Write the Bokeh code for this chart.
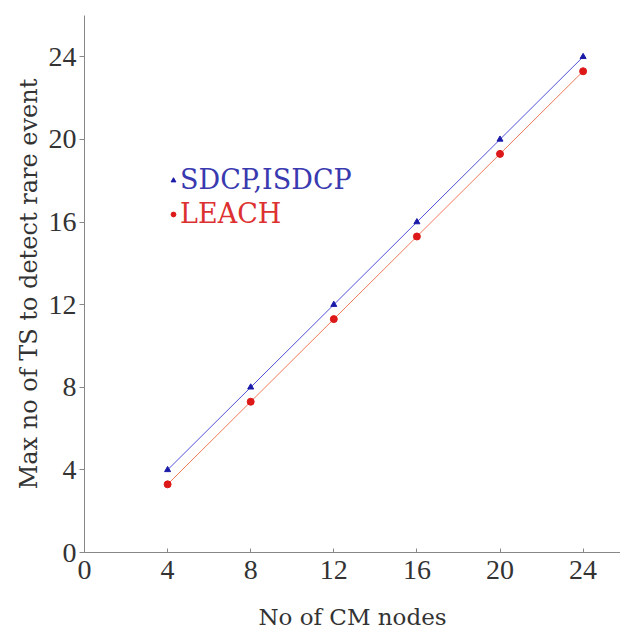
from bokeh.plotting import figure
from bokeh.models import Range1d, Legend, LegendItem, FixedTicker
from bokeh.embed import file_html
from bokeh.resources import INLINE

cm_nodes = [4, 8, 12, 16, 20, 24]
sdcp_isdcp = [4, 8, 12, 16, 20, 24]
leach = [3.3, 7.3, 11.3, 15.3, 19.3, 23.3]
ticks = [0, 4, 8, 12, 16, 20, 24]

FONT = "DejaVu Serif"
NUMFONT = "Liberation Serif"

p = figure(width=620, height=632, output_backend="svg", toolbar_location=None,
           x_range=Range1d(0, 25.8), y_range=Range1d(0, 26),
           min_border_left=84, min_border_right=0, min_border_top=15, min_border_bottom=80)
p.outline_line_color = None
p.xgrid.visible = False
p.ygrid.visible = False
p.background_fill_color = "white"
p.border_fill_color = "white"

for ax in (p.xaxis[0], p.yaxis[0]):
    ax.ticker = FixedTicker(ticks=ticks)
    ax.axis_line_color = "#888888"
    ax.major_tick_line_color = "#888888"
    ax.minor_tick_line_color = None
    ax.major_label_text_font = NUMFONT
    ax.major_label_text_font_size = "28px"
    ax.major_label_text_color = "#333333"
    ax.axis_label_text_font = FONT
    ax.axis_label_text_font_style = "normal"
    ax.axis_label_text_color = "#333333"

p.xaxis.major_tick_in = 4
p.xaxis.major_tick_out = 0
p.yaxis.major_tick_in = 0
p.yaxis.major_tick_out = 5

p.xaxis.axis_label = "No of CM nodes"
p.yaxis.axis_label = "Max no of TS to detect rare event"
p.xaxis.axis_label_text_font_size = "23px"
p.yaxis.axis_label_text_font_size = "24px"
p.xaxis.major_label_standoff = 8
p.xaxis.axis_label_standoff = 22
p.yaxis.major_label_standoff = 3
p.yaxis.axis_label_standoff = 3

l1 = p.line(cm_nodes, sdcp_isdcp, line_color="#5050d8", line_width=1)
m1 = p.scatter(cm_nodes, sdcp_isdcp, marker="triangle", size=6, color="#1a1aa8")
l2 = p.line(cm_nodes, leach, line_color="#f07a5a", line_width=1)
m2 = p.scatter(cm_nodes, leach, marker="circle", size=7, color="#dd1818")

leg1 = Legend(items=[LegendItem(label="SDCP,ISDCP", renderers=[m1])],
              location=(83, 357), label_text_color="#3a3ab0")
leg2 = Legend(items=[LegendItem(label="LEACH", renderers=[m2])],
              location=(83, 323), label_text_color="#dd3030")
for lg in (leg1, leg2):
    lg.label_text_font = FONT
    lg.label_text_font_size = "27px"
    lg.background_fill_alpha = 0
    lg.border_line_color = None
    lg.glyph_width = 12
    lg.label_standoff = 1
    lg.padding = 0
    lg.margin = 0
    p.add_layout(lg)

open("out.html", "w").write(file_html(p, INLINE))
